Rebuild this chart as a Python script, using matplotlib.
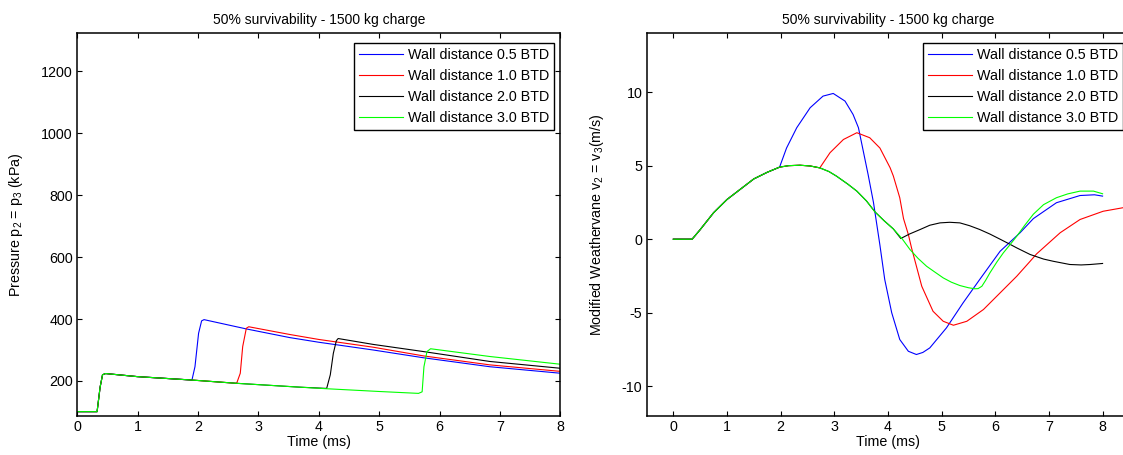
import numpy as np
import matplotlib
matplotlib.use('Agg')
from matplotlib import pyplot as plt

plt.rcParams['font.family'] = ['Liberation Sans', 'DejaVu Sans']
plt.rcParams['mathtext.fontset'] = 'custom'
plt.rcParams['mathtext.rm'] = 'Liberation Sans'
plt.rcParams['mathtext.default'] = 'regular'
plt.rcParams['axes.unicode_minus'] = False   # matlab prints a plain hyphen

TITLE = '50% survivability - 1500 kg charge'
LABELS = ['Wall distance 0.5 BTD', 'Wall distance 1.0 BTD',
          'Wall distance 2.0 BTD', 'Wall distance 3.0 BTD']
COLORS = ['#0000ff', '#ff0000', '#000000', '#00ff00']

# Pressure traces (ms, kPa)
t_p05 = [0, 0.33, 0.38, 0.42, 0.47, 1.0, 1.9, 1.95, 2.01, 2.06, 2.10, 2.8, 3.52, 4.0, 4.9, 5.73, 6.83, 8.0]
p_p05 = [101, 101, 180, 220, 224, 214, 203, 246, 354, 394, 398, 368, 340, 325, 300, 275, 246, 225]

t_p10 = [0, 0.33, 0.38, 0.42, 0.47, 1.0, 1.9, 2.64, 2.70, 2.74, 2.80, 2.84, 3.52, 4.0, 4.9, 5.73, 6.83, 8.0]
p_p10 = [101, 101, 180, 220, 224, 214, 203, 192.5, 225, 311, 370, 375, 350, 334, 309, 281, 252, 231]

t_p20 = [0, 0.33, 0.38, 0.42, 0.47, 1.0, 1.9, 2.64, 3.69, 4.13, 4.19, 4.24, 4.29, 4.32, 4.9, 5.73, 6.83, 8.0]
p_p20 = [101, 101, 180, 220, 224, 214, 203, 192.5, 180, 176, 220, 289, 330, 337, 318, 295, 263, 241]

t_p30 = [0, 0.33, 0.38, 0.42, 0.47, 1.0, 1.9, 2.64, 3.69, 4.13, 5.01, 5.65, 5.71, 5.74, 5.79, 5.85, 6.83, 8.0]
p_p30 = [101, 101, 180, 220, 224, 214, 203, 192.5, 180, 175, 166, 160, 165, 246, 295, 304, 279, 254]

# Weathervane velocity traces (ms, m/s)
t_v05 = [0, 0.35, 0.5, 0.75, 1.0, 1.25, 1.5, 1.75, 1.98, 2.11, 2.30, 2.55, 2.79, 2.98, 3.20, 3.35,
         3.45, 3.54, 3.63, 3.73, 3.85, 3.94, 4.07, 4.22, 4.38, 4.53, 4.65, 4.78, 5.09, 5.40, 5.71,
         6.09, 6.46, 6.71, 7.14, 7.58, 7.85, 8.0]
v_v05 = [0, 0, 0.65, 1.8, 2.7, 3.4, 4.1, 4.55, 4.9, 6.2, 7.58, 8.94, 9.73, 9.91, 9.39, 8.48,
         7.58, 5.99, 4.4, 2.5, -0.4, -2.74, -5.0, -6.82, -7.62, -7.84, -7.7, -7.39, -6.03, -4.33, -2.74,
         -0.82, 0.43, 1.4, 2.48, 2.97, 3.02, 2.93]

t_v10 = [0, 0.35, 0.5, 0.75, 1.0, 1.25, 1.5, 1.75, 1.98, 2.15, 2.36, 2.55, 2.73, 2.92, 3.17, 3.42,
         3.66, 3.85, 4.04, 4.10, 4.22, 4.29, 4.38, 4.44, 4.63, 4.84, 5.03, 5.22, 5.47, 5.78, 6.09,
         6.40, 6.65, 6.77, 7.21, 7.58, 8.01, 8.38, 8.5]
v_v10 = [0, 0, 0.65, 1.8, 2.7, 3.4, 4.1, 4.55, 4.9, 5.0, 5.03, 4.98, 4.85, 5.88, 6.78, 7.24,
         6.9, 6.2, 4.86, 4.3, 2.82, 1.4, 0.32, -0.6, -3.2, -4.9, -5.58, -5.85, -5.58, -4.78, -3.65,
         -2.52, -1.5, -1.0, 0.44, 1.34, 1.9, 2.14, 2.2]

t_v20 = [0, 0.35, 0.5, 0.75, 1.0, 1.25, 1.5, 1.75, 1.98, 2.15, 2.36, 2.55, 2.73, 2.9, 3.04, 3.25,
         3.42, 3.6, 3.76, 3.93, 4.10, 4.24, 4.4, 4.6, 4.78, 4.97, 5.15, 5.34, 5.52, 5.71, 5.9, 6.09,
         6.25, 6.40, 6.65, 6.9, 7.08, 7.39, 7.6, 7.77, 8.0]
v_v20 = [0, 0, 0.65, 1.8, 2.7, 3.4, 4.1, 4.55, 4.9, 5.0, 5.03, 4.98, 4.85, 4.6, 4.29, 3.75,
         3.27, 2.6, 1.85, 1.25, 0.7, 0.05, 0.35, 0.66, 0.95, 1.11, 1.15, 1.11, 0.92, 0.66, 0.35, 0,
         -0.3, -0.59, -1.04, -1.35, -1.5, -1.72, -1.75, -1.72, -1.65]

t_v30 = [0, 0.35, 0.5, 0.75, 1.0, 1.25, 1.5, 1.75, 1.98, 2.15, 2.36, 2.55, 2.73, 2.9, 3.04, 3.25,
         3.42, 3.6, 3.76, 3.93, 4.10, 4.26, 4.41, 4.56, 4.72, 4.88, 5.03, 5.18, 5.34, 5.5, 5.62,
         5.68, 5.75, 5.82, 5.90, 6.03, 6.15, 6.28, 6.40, 6.55, 6.71, 6.9, 7.14, 7.35, 7.58, 7.83, 8.0]
v_v30 = [0, 0, 0.65, 1.8, 2.7, 3.4, 4.1, 4.55, 4.9, 5.0, 5.03, 4.98, 4.85, 4.6, 4.29, 3.75,
         3.27, 2.6, 1.85, 1.25, 0.7, 0.05, -0.7, -1.3, -1.84, -2.25, -2.63, -2.92, -3.15, -3.3, -3.37,
         -3.36, -3.2, -2.8, -2.29, -1.55, -0.93, -0.35, 0.2, 0.95, 1.7, 2.35, 2.82, 3.08, 3.27, 3.27, 3.09]

pressure = [(t_p05, p_p05), (t_p10, p_p10), (t_p20, p_p20), (t_p30, p_p30)]
velocity = [(t_v05, v_v05), (t_v10, v_v10), (t_v20, v_v20), (t_v30, v_v30)]

FS = 10.3


def styleAxes(ax):
    # matlab-ish box with inward ticks on all four sides
    ax.tick_params(direction='in', top=True, right=True, length=3.5, width=0.8,
                   labelsize=FS, pad=3)
    for s in ax.spines.values():
        s.set_linewidth(1.1)
    ax.set_title(TITLE, fontsize=FS - 0.3, pad=7)
    ax.set_xlabel('Time (ms)', fontsize=FS, labelpad=1)
    leg = ax.legend(loc='upper right', bbox_to_anchor=(0.9863, 0.9754), borderaxespad=0,
                    fontsize=FS, frameon=True, fancybox=False, framealpha=1,
                    handlelength=3.1, handletextpad=0.3, labelspacing=0.5,
                    borderpad=0.35)
    leg.get_frame().set_edgecolor('black')
    leg.get_frame().set_linewidth(1.0)


fig = plt.figure(figsize=(11.23, 4.55), dpi=100)
ax1 = fig.add_axes([0.0687, 0.0864, 0.4304, 0.8404])
ax2 = fig.add_axes([0.5757, 0.0864, 0.4300, 0.8404])

for (t, p), lab, c in zip(pressure, LABELS, COLORS):
    ax1.plot(t, p, color=c, linewidth=0.8, label=lab)
ax1.set_xlim(0, 8)
ax1.set_ylim(88, 1322)
ax1.set_xticks(np.arange(0, 9, 1))
ax1.set_yticks([200, 400, 600, 800, 1000, 1200])
ax1.set_ylabel('Pressure p$_2$ = p$_3$ (kPa)', fontsize=FS, labelpad=12)
styleAxes(ax1)

for (t, v), lab, c in zip(velocity, LABELS, COLORS):
    ax2.plot(t, v, color=c, linewidth=0.8, label=lab)
ax2.set_xlim(-0.5, 8.5)
ax2.set_ylim(-12, 14)
ax2.set_xticks(np.arange(0, 9, 1))
ax2.set_yticks([-10, -5, 0, 5, 10])
ax2.set_ylabel('Modified Weathervane v$_2$ = v$_3$(m/s)', fontsize=FS, labelpad=11)
styleAxes(ax2)

fig.savefig('out.png', dpi=100)
